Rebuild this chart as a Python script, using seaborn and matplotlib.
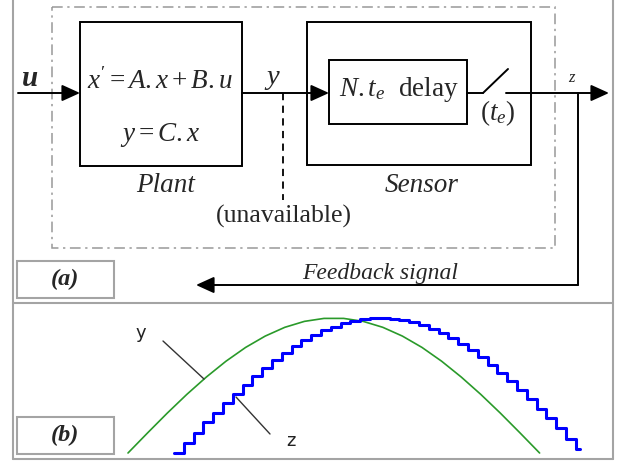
import numpy as np
import pandas as pd
import matplotlib
matplotlib.use("Agg")
import matplotlib.pyplot as plt
from matplotlib.patches import Rectangle
import seaborn as sns

# ---------------- data ----------------
# plant output y (green), sampled every 2 time units (te = 1)
y_t = [0, 2, 4, 6, 8, 10, 12, 14, 16, 18, 20, 22, 24, 26, 28, 30, 32, 34, 36, 38, 40, 42]
y_vals = [0.0, 0.149, 0.295, 0.434, 0.563, 0.680, 0.782, 0.866, 0.931, 0.975, 0.997,
          0.997, 0.975, 0.931, 0.866, 0.782, 0.680, 0.563, 0.434, 0.295, 0.149, 0.0]
# delayed, sampled sensor output z (blue), one level per sampling period
z_vals = [0.0, 0.076, 0.151, 0.226, 0.299, 0.370, 0.440, 0.507, 0.571, 0.631, 0.688,
          0.741, 0.790, 0.834, 0.873, 0.908, 0.937, 0.961, 0.979, 0.992, 0.999,
          1.000, 0.995, 0.985, 0.969, 0.947, 0.920, 0.888, 0.851, 0.808, 0.761,
          0.710, 0.655, 0.596, 0.532, 0.467, 0.399, 0.328, 0.257, 0.183, 0.106, 0.030]
z_start = 4.7      # first sample time
z_end = 46.1       # last visible time

# ---------------- style ----------------
sns.set_style("white")
plt.rcParams['font.family'] = ['Liberation Serif', 'DejaVu Serif']
plt.rcParams['mathtext.fontset'] = 'custom'
plt.rcParams['mathtext.rm'] = 'Liberation Serif'
plt.rcParams['mathtext.it'] = 'Liberation Serif:italic'
plt.rcParams['mathtext.bf'] = 'Liberation Serif:bold'

W, H = 627, 466
fig = plt.figure(figsize=(W / 100, H / 100), dpi=100, facecolor='white')

# ---------------- panel (b): signals ----------------
px_per_t = 9.8
x0_px = 128.0
y0_px, y1_px = 453.0, 318.0
frame_l, frame_r, div_y, frame_b = 12.5, 613.0, 303.0, 459.0
axb = fig.add_axes([frame_l / W, (H - frame_b) / H, (frame_r - frame_l) / W, (frame_b - div_y) / H])
axb.set_xlim((frame_l - x0_px) / px_per_t, (frame_r - x0_px) / px_per_t)
axb.set_ylim((y0_px - frame_b) / (y0_px - y1_px), (y0_px - div_y) / (y0_px - y1_px))
axb.axis('off')

df_y = pd.DataFrame({'t': y_t, 'v': y_vals})
sns.lineplot(data=df_y, x='t', y='v', ax=axb, color='#2a9a2a', linewidth=1.2, estimator=None)

z_t = list(z_start + np.arange(len(z_vals))) + [z_end]
df_z = pd.DataFrame({'t': z_t, 'v': z_vals + [z_vals[-1]]})
sns.lineplot(data=df_z, x='t', y='v', ax=axb, color='#0000ff', linewidth=2.2,
             drawstyle='steps-post', estimator=None)

# ---------------- overlay: block diagram (pixel coordinates) ----------------
ax = fig.add_axes([0, 0, 1, 1])
ax.set_xlim(0, W)
ax.set_ylim(H, 0)
ax.axis('off')

gray = '#a4a4a4'
blw = 1.4
# outer frame
ax.plot([frame_l, frame_l], [-2, frame_b], color=gray, lw=1.5)
ax.plot([frame_r, frame_r], [-2, frame_b], color=gray, lw=1.5)
ax.plot([frame_l, frame_r], [div_y, div_y], color=gray, lw=1.5)
ax.plot([frame_l, frame_r], [frame_b, frame_b], color=gray, lw=1.5)

# dash-dot system boundary
ax.add_patch(Rectangle((52, 7), 503, 241, fill=False, edgecolor='#999999', lw=1.1,
                       linestyle=(0, (7, 3, 1.5, 3))))

# blocks
ax.add_patch(Rectangle((80, 22), 162, 144, fill=False, edgecolor='k', lw=blw))
ax.add_patch(Rectangle((307, 22), 224, 143, fill=False, edgecolor='k', lw=blw))
ax.add_patch(Rectangle((329, 60), 138, 64, fill=False, edgecolor='k', lw=blw))

# label boxes (a) and (b)
ax.add_patch(Rectangle((17, 261), 97, 37, fill=False, edgecolor=gray, lw=1.5))
ax.add_patch(Rectangle((17, 417), 97, 37, fill=False, edgecolor=gray, lw=1.5))

arrow = dict(arrowstyle='-|>,head_length=0.55,head_width=0.25', color='k', lw=blw,
             mutation_scale=20, shrinkA=0, shrinkB=0)
sig_y = 93
ax.annotate('', xy=(80, sig_y), xytext=(18, sig_y), arrowprops=arrow)
ax.annotate('', xy=(329, sig_y), xytext=(242, sig_y), arrowprops=arrow)
ax.annotate('', xy=(609, sig_y), xytext=(506, sig_y), arrowprops=arrow)
# switch
ax.plot([467, 483], [sig_y, sig_y], color='k', lw=blw)
ax.plot([483, 508], [sig_y, 69], color='k', lw=blw)
# unavailable dashed tap
ax.plot([283, 283], [sig_y, 200], color='k', lw=1.3, linestyle=(0, (4, 3)))
# feedback
ax.plot([578, 578], [sig_y, 285], color='k', lw=blw)
ax.annotate('', xy=(196, 285), xytext=(578, 285), arrowprops=arrow)

fs = 19.5
ax.text(30, 79, 'u', fontsize=21, ha='center', va='center',
        fontweight='bold', fontstyle='italic')
ax.text(160, 81, r"$x' = A.x + B.u$", fontsize=fs, ha='center', va='center')
ax.text(160, 135, r"$y = C.x$", fontsize=fs, ha='center', va='center')
ax.text(166, 186, 'Plant', fontsize=fs, ha='center', va='center', fontstyle='italic')
ax.text(273, 79, r'$y$', fontsize=fs + 1, ha='center', va='center')
ax.text(284, 216, '(unavailable)', fontsize=18.5, ha='center', va='center')
ax.text(399, 90, r'$N.t_e$  delay', fontsize=fs, ha='center', va='center')
ax.text(498, 113, r'$(t_e)$', fontsize=fs, ha='center', va='center')
ax.text(422, 186, 'Sensor', fontsize=fs, ha='center', va='center', fontstyle='italic')
ax.text(572, 78, r'$z$', fontsize=12, ha='center', va='center')
ax.text(380, 273, 'Feedback signal', fontsize=17, ha='center', va='center', fontstyle='italic')
ax.text(65, 279, '(a)', fontsize=17.5, ha='center', va='center', fontweight='bold', fontstyle='italic')
ax.text(65, 435, '(b)', fontsize=17.5, ha='center', va='center', fontweight='bold', fontstyle='italic')

# panel (b) labels with leader lines
ax.text(141, 333, 'y', fontsize=13, ha='center', va='center', family='DejaVu Sans', color='#222222')
ax.text(291, 441, 'z', fontsize=13, ha='center', va='center', family='DejaVu Sans', color='#222222')
ax.plot([163, 204], [341, 379], color='#333333', lw=1.0)
ax.plot([236, 270], [397, 434], color='#333333', lw=1.0)

fig.savefig('out.png', dpi=100, facecolor='white')
